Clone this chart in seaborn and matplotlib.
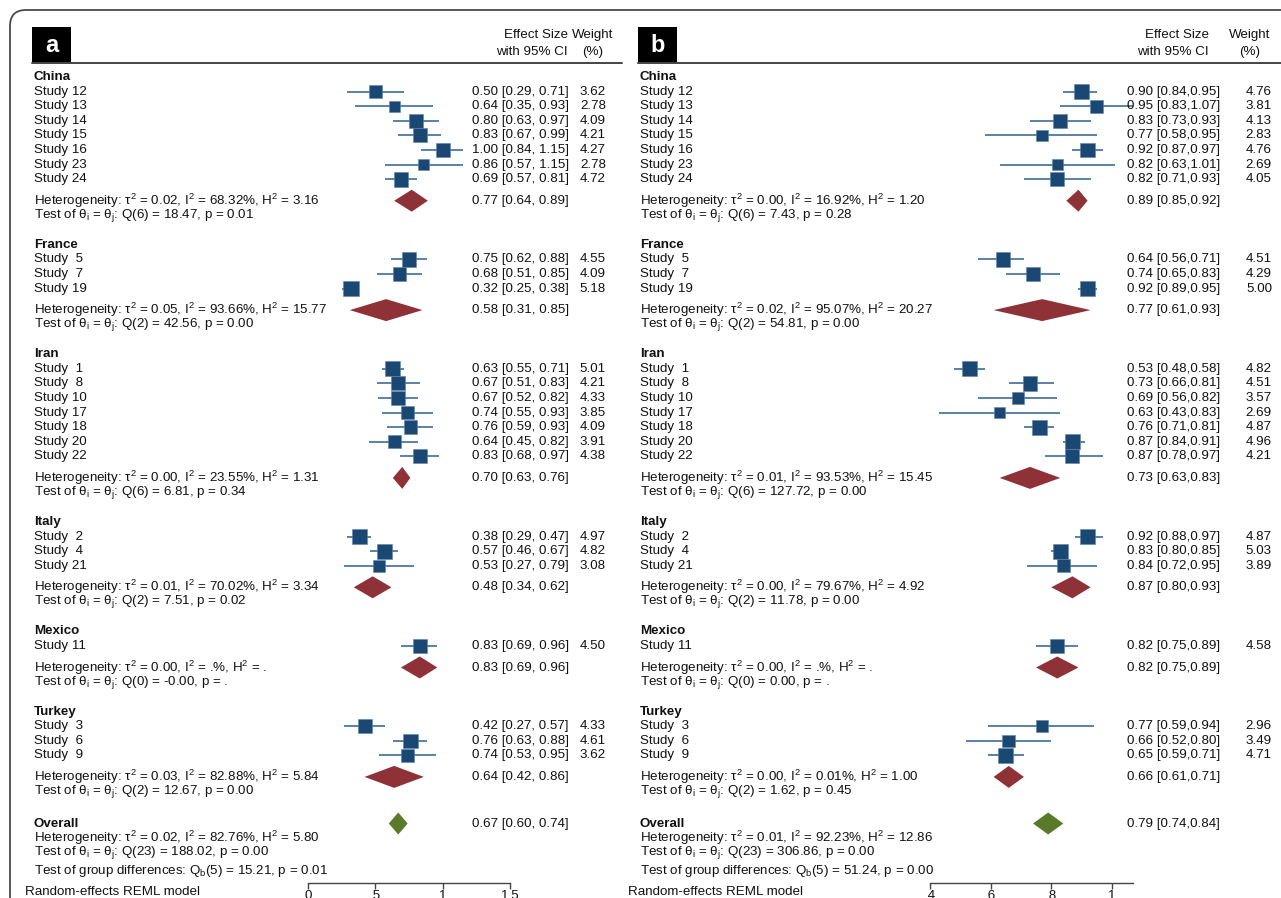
import numpy as np
import pandas as pd
import matplotlib
matplotlib.use("Agg")
import matplotlib.pyplot as plt
import matplotlib.transforms as mtransforms
from matplotlib.patches import Rectangle, FancyBboxPatch
from matplotlib.lines import Line2D
import seaborn as sns

sns.set_theme(style="white")
plt.rcParams['font.family'] = ['Liberation Sans', 'DejaVu Sans']
plt.rcParams['mathtext.default'] = 'regular'

# ---------------- data ----------------
groups = ["China", "France", "Iran", "Italy", "Mexico", "Turkey"]
study_labels = ["Study 12", "Study 13", "Study 14", "Study 15", "Study 16", "Study 23", "Study 24",
                "Study  5", "Study  7", "Study 19",
                "Study  1", "Study  8", "Study 10", "Study 17", "Study 18", "Study 20", "Study 22",
                "Study  2", "Study  4", "Study 21",
                "Study 11",
                "Study  3", "Study  6", "Study  9"]
study_country = (["China"] * 7 + ["France"] * 3 + ["Iran"] * 7 + ["Italy"] * 3
                 + ["Mexico"] * 1 + ["Turkey"] * 3)

# panel a
a_es = [0.50, 0.64, 0.80, 0.83, 1.00, 0.86, 0.69, 0.75, 0.68, 0.32, 0.63, 0.67, 0.67, 0.74, 0.76, 0.64, 0.83,
        0.38, 0.57, 0.53, 0.83, 0.42, 0.76, 0.74]
a_lo = [0.29, 0.35, 0.63, 0.67, 0.84, 0.57, 0.57, 0.62, 0.51, 0.25, 0.55, 0.51, 0.52, 0.55, 0.59, 0.45, 0.68,
        0.29, 0.46, 0.27, 0.69, 0.27, 0.63, 0.53]
a_hi = [0.71, 0.93, 0.97, 0.99, 1.15, 1.15, 0.81, 0.88, 0.85, 0.38, 0.71, 0.83, 0.82, 0.93, 0.93, 0.82, 0.97,
        0.47, 0.67, 0.79, 0.96, 0.57, 0.88, 0.95]
a_wt = [3.62, 2.78, 4.09, 4.21, 4.27, 2.78, 4.72, 4.55, 4.09, 5.18, 5.01, 4.21, 4.33, 3.85, 4.09, 3.91, 4.38,
        4.97, 4.82, 3.08, 4.50, 4.33, 4.61, 3.62]
a_sub_es = [0.77, 0.58, 0.70, 0.48, 0.83, 0.64]
a_sub_lo = [0.64, 0.31, 0.63, 0.34, 0.69, 0.42]
a_sub_hi = [0.89, 0.85, 0.76, 0.62, 0.96, 0.86]
a_tau2 = ["0.02", "0.05", "0.00", "0.01", "0.00", "0.03"]
a_I2 = ["68.32", "93.66", "23.55", "70.02", ".", "82.88"]
a_H2 = ["3.16", "15.77", "1.31", "3.34", ".", "5.84"]
a_Qdf = [6, 2, 6, 2, 0, 2]
a_Q = ["18.47", "42.56", "6.81", "7.51", "-0.00", "12.67"]
a_p = ["0.01", "0.00", "0.34", "0.02", ".", "0.00"]
a_overall = [0.67, 0.60, 0.74]
a_overall_het = ["0.02", "82.76", "5.80"]
a_overall_Q = ["23", "188.02", "0.00"]
a_group_diff = ["5", "15.21", "0.01"]

# panel b
b_es = [0.90, 0.95, 0.83, 0.77, 0.92, 0.82, 0.82, 0.64, 0.74, 0.92, 0.53, 0.73, 0.69, 0.63, 0.76, 0.87, 0.87,
        0.92, 0.83, 0.84, 0.82, 0.77, 0.66, 0.65]
b_lo = [0.84, 0.83, 0.73, 0.58, 0.87, 0.63, 0.71, 0.56, 0.65, 0.89, 0.48, 0.66, 0.56, 0.43, 0.71, 0.84, 0.78,
        0.88, 0.80, 0.72, 0.75, 0.59, 0.52, 0.59]
b_hi = [0.95, 1.07, 0.93, 0.95, 0.97, 1.01, 0.93, 0.71, 0.83, 0.95, 0.58, 0.81, 0.82, 0.83, 0.81, 0.91, 0.97,
        0.97, 0.85, 0.95, 0.89, 0.94, 0.80, 0.71]
b_wt = [4.76, 3.81, 4.13, 2.83, 4.76, 2.69, 4.05, 4.51, 4.29, 5.00, 4.82, 4.51, 3.57, 2.69, 4.87, 4.96, 4.21,
        4.87, 5.03, 3.89, 4.58, 2.96, 3.49, 4.71]
b_sub_es = [0.89, 0.77, 0.73, 0.87, 0.82, 0.66]
b_sub_lo = [0.85, 0.61, 0.63, 0.80, 0.75, 0.61]
b_sub_hi = [0.92, 0.93, 0.83, 0.93, 0.89, 0.71]
b_tau2 = ["0.00", "0.02", "0.01", "0.00", "0.00", "0.00"]
b_I2 = ["16.92", "95.07", "93.53", "79.67", ".", "0.01"]
b_H2 = ["1.20", "20.27", "15.45", "4.92", ".", "1.00"]
b_Qdf = [6, 2, 6, 2, 0, 2]
b_Q = ["7.43", "54.81", "127.72", "11.78", "0.00", "1.62"]
b_p = ["0.28", "0.00", "0.00", "0.00", ".", "0.45"]
b_overall = [0.79, 0.74, 0.84]
b_overall_het = ["0.01", "92.23", "12.86"]
b_overall_Q = ["23", "306.86", "0.00"]
b_group_diff = ["5", "51.24", "0.00"]

a_ticks = [0, 0.5, 1, 1.5]
a_ticklabels = ["0", ".5", "1", "1.5"]
b_ticks = [0.4, 0.6, 0.8, 1.0]
b_ticklabels = [".4", ".6", ".8", "1"]

# ---------------- styling ----------------
W, H = 1281, 898
FS = 9.6
SQ_COLOR = "#1B4773"
CI_COLOR = "#4C77A3"
SUB_COLOR = "#8E3238"
OV_COLOR = "#5A7A2B"
TXT = "#111111"

fig = plt.figure(figsize=(W / 100, H / 100), dpi=100)
ident = mtransforms.IdentityTransform()


def fx(px):
    return px / W


# outer rounded frame
frame = FancyBboxPatch((10, -60), 1500, H - 10 + 60, boxstyle="round,pad=0,rounding_size=16",
                       transform=ident, fill=False, ec="#4a4a4a", lw=1.3)
fig.add_artist(frame)

# row layout (in pixel-like units, top -> bottom)
STEP = 14.6
rows = {"header": [], "study": [], "het": [], "test": []}
y = 77.0
for g in groups:
    rows["header"].append(y)
    for _ in range(study_country.count(g)):
        y += STEP
        rows["study"].append(y)
    y += 21.5
    rows["het"].append(y)
    y += STEP
    rows["test"].append(y)
    y += 29.5
y += 2.5
rows["overall"] = y
rows["ohet"] = y + 14.6
rows["otest"] = y + 29.2
rows["qb"] = y + 47.5

Y_TOP, Y_AX = 65, 883


def draw_panel(letter, left_px, ax_l, ax_r, xlim, ticks, ticklabels, ci_x, wt_r, es_hdr_r, wt_hdr_c,
               line_l, line_r, model_x, es, lo, hi, wt, s_es, s_lo, s_hi, tau2, I2, H2, Qdf, Q, p,
               ov, ov_het, ov_Q, gdiff, sep):
    ax = fig.add_axes([fx(ax_l), (H - Y_AX) / H, (ax_r - ax_l) / W, (Y_AX - Y_TOP) / H])
    ax.patch.set_visible(False)
    ax.set_xlim(*xlim)
    ax.set_ylim(Y_AX, Y_TOP)
    for sp in ["top", "left", "right"]:
        ax.spines[sp].set_visible(False)
    ax.spines["bottom"].set_color("#444444")
    ax.spines["bottom"].set_linewidth(1.0)
    ax.set_yticks([])
    ax.set_xticks(ticks)
    ax.set_xticklabels(ticklabels)
    ax.tick_params(axis="x", bottom=True, direction="out", length=4, width=1.0, color="#444444",
                   labelsize=FS, pad=1.0, labelcolor=TXT)
    ax.grid(False)

    tr = mtransforms.blended_transform_factory(fig.transFigure, ax.transData)

    ys = np.array(rows["study"])
    # CI lines
    ax.hlines(ys, lo, hi, color=CI_COLOR, lw=1.3, zorder=2)
    # weighted squares
    df = pd.DataFrame({"es": es, "y": ys, "w": wt})
    sns.scatterplot(data=df, x="es", y="y", size="w", sizes=(0, 235), size_norm=(0, 10),
                    marker="s", color=SQ_COLOR, edgecolor="#5b84b0", linewidth=0.4,
                    legend=False, ax=ax, zorder=3)
    ax.set_xlabel("")
    ax.set_ylabel("")
    # subgroup diamonds
    hh = 11
    for yy, e, l, h in zip(rows["het"], s_es, s_lo, s_hi):
        ax.fill([l, e, h, e], [yy, yy - hh, yy, yy + hh], color=SUB_COLOR, lw=0, zorder=3)
    yo = rows["overall"]
    ax.fill([ov[1], ov[0], ov[2], ov[0]], [yo, yo - hh, yo, yo + hh], color=OV_COLOR, lw=0, zorder=3)

    # texts
    kw = dict(transform=tr, fontsize=FS, color=TXT, va="center", clip_on=False)
    for g, yy in zip(groups, rows["header"]):
        ax.text(fx(left_px), yy, g, fontweight="bold", **kw)
    for lab, yy, e, l, h, w in zip(study_labels, ys, es, lo, hi, wt):
        ax.text(fx(left_px), yy, lab, **kw)
        ax.text(fx(ci_x), yy, f"{e:.2f} [{l:.2f},{sep}{h:.2f}]", **kw)
        ax.text(fx(wt_r), yy, f"{w:.2f}", ha="right", **kw)
    for i, g in enumerate(groups):
        yh, yt = rows["het"][i], rows["test"][i]
        ax.text(fx(left_px), yh,
                f"Heterogeneity: $\\tau^2$ = {tau2[i]}, $I^2$ = {I2[i]}%, $H^2$ = {H2[i]}", **kw)
        ax.text(fx(left_px), yt,
                f"Test of $\\theta_i$ = $\\theta_j$: Q({Qdf[i]}) = {Q[i]}, p = {p[i]}", **kw)
        ax.text(fx(ci_x), yh, f"{s_es[i]:.2f} [{s_lo[i]:.2f},{sep}{s_hi[i]:.2f}]", **kw)
    ax.text(fx(left_px), rows["overall"], "Overall", fontweight="bold", **kw)
    ax.text(fx(ci_x), rows["overall"], f"{ov[0]:.2f} [{ov[1]:.2f},{sep}{ov[2]:.2f}]", **kw)
    ax.text(fx(left_px), rows["ohet"],
            f"Heterogeneity: $\\tau^2$ = {ov_het[0]}, $I^2$ = {ov_het[1]}%, $H^2$ = {ov_het[2]}", **kw)
    ax.text(fx(left_px), rows["otest"],
            f"Test of $\\theta_i$ = $\\theta_j$: Q({ov_Q[0]}) = {ov_Q[1]}, p = {ov_Q[2]}", **kw)
    ax.text(fx(left_px), rows["qb"],
            f"Test of group differences: $Q_b$({gdiff[0]}) = {gdiff[1]}, p = {gdiff[2]}", **kw)

    # model note at bottom
    fig.text(fx(model_x), 1 - 892 / H, "Random-effects REML model", fontsize=FS, color=TXT,
             va="center", ha="left")

    # header
    fig.text(fx(es_hdr_r), 1 - 35 / H, "Effect Size", fontsize=FS, color=TXT, va="center", ha="right")
    fig.text(fx(es_hdr_r), 1 - 52 / H, "with 95% CI", fontsize=FS, color=TXT, va="center", ha="right")
    fig.text(fx(wt_hdr_c), 1 - 35 / H, "Weight", fontsize=FS, color=TXT, va="center", ha="center")
    fig.text(fx(wt_hdr_c), 1 - 52 / H, "(%)", fontsize=FS, color=TXT, va="center", ha="center")
    fig.add_artist(Line2D([line_l, line_r], [H - 63, H - 63], transform=ident, color="#444444", lw=1.4))
    fig.add_artist(Rectangle((line_l, H - 63), 39, 36, transform=ident, color="black", lw=0))
    fig.text(fx(line_l + 19.5), 1 - 45 / H, letter, fontsize=17, fontweight="bold", color="white",
             ha="center", va="center")
    return ax


draw_panel("a", 34, 308, 510, (0, 1.5), a_ticks, a_ticklabels, 472, 606, 568, 593, 32, 622, 25,
           a_es, a_lo, a_hi, a_wt, a_sub_es, a_sub_lo, a_sub_hi, a_tau2, a_I2, a_H2, a_Qdf, a_Q, a_p,
           a_overall, a_overall_het, a_overall_Q, a_group_diff, " ")
draw_panel("b", 640, 930, 1133, (0.4, 1.07), b_ticks, b_ticklabels, 1127, 1272, 1209, 1250, 638, 1281, 628,
           b_es, b_lo, b_hi, b_wt, b_sub_es, b_sub_lo, b_sub_hi, b_tau2, b_I2, b_H2, b_Qdf, b_Q, b_p,
           b_overall, b_overall_het, b_overall_Q, b_group_diff, "")

fig.savefig("out.png", dpi=100, facecolor="white")
